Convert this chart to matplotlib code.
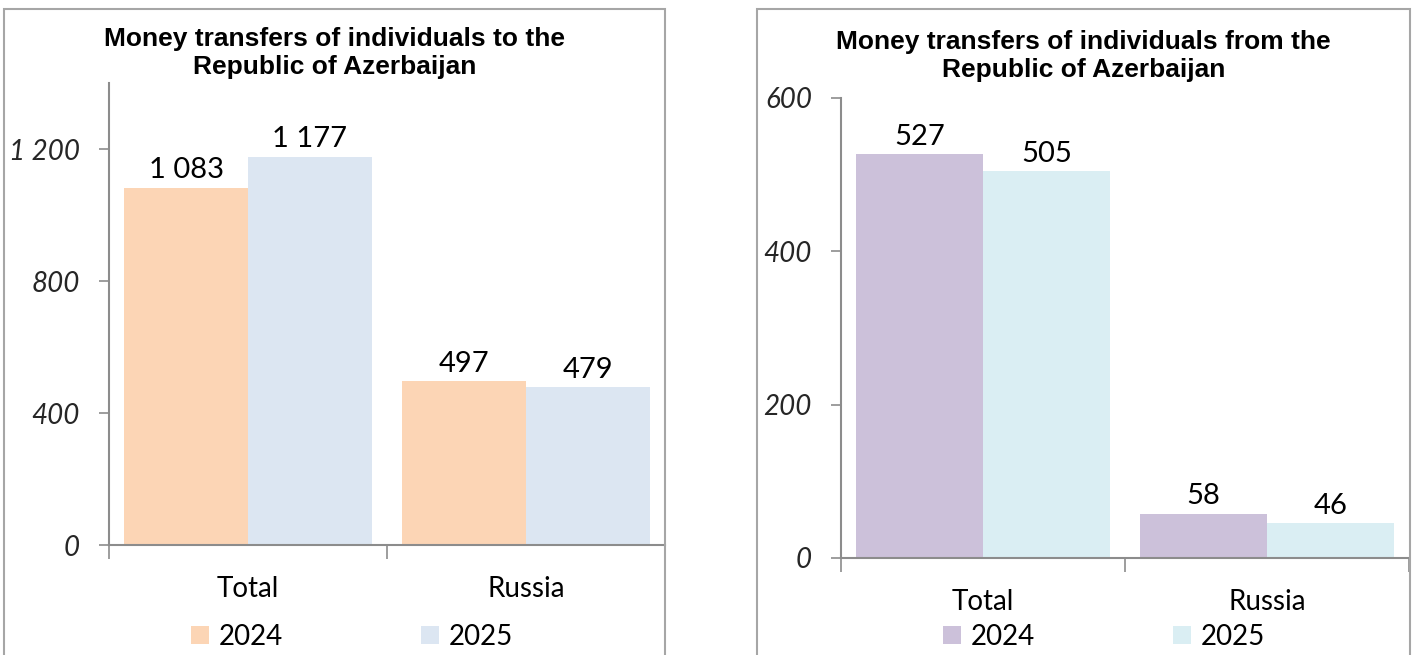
import numpy as np
import matplotlib.pyplot as plt
from matplotlib.patches import Rectangle, Patch
from matplotlib.ticker import FuncFormatter

# data
categories = ['Total', 'Russia']
years = ['2024', '2025']
to_az_2024 = [1083, 497]
to_az_2025 = [1177, 479]
from_az_2024 = [527, 58]
from_az_2025 = [505, 46]

title_left = 'Money transfers of individuals to the\nRepublic of Azerbaijan'
title_right = 'Money transfers of individuals from the\nRepublic of Azerbaijan'

W, H = 1413, 655
plt.rcParams['font.family'] = ['Lato', 'DejaVu Sans']
fig = plt.figure(figsize=(W / 100, H / 100), dpi=100)

def px_box(x0, y0, x1, y1):
    # pixel coords (top-left origin) -> figure fractions
    return [x0 / W, 1 - y1 / H, (x1 - x0) / W, (y1 - y0) / H]

def space_fmt(v, pos):
    return f'{int(v):,}'.replace(',', ' ')

axis_col = '#8c8c8c'

def draw_panel(box, frame, vals1, vals2, colors, ymax, yticks, title, title_y, leg_xy):
    # grey frame round the panel
    fx = px_box(*frame)
    fig.add_artist(Rectangle((fx[0], fx[1]), fx[2], fx[3], transform=fig.transFigure,
                             fill=False, edgecolor='#a6a6a6', linewidth=1.5, clip_on=False))
    ax = fig.add_axes(px_box(*box))
    x = np.arange(len(categories)) + 0.5
    w = 0.446
    b1 = ax.bar(x - w / 2, vals1, w, color=colors[0], label=years[0])
    b2 = ax.bar(x + w / 2, vals2, w, color=colors[1], label=years[1])
    for bars in (b1, b2):
        ax.bar_label(bars, labels=[space_fmt(v, None) for v in bars.datavalues],
                     padding=3, fontsize=21, color='black')
    ax.set_xlim(0, len(categories))
    ax.set_ylim(0, ymax)
    ax.set_yticks(yticks)
    ax.yaxis.set_major_formatter(FuncFormatter(space_fmt))
    ax.tick_params(axis='y', direction='out', length=7, width=1.2, color=axis_col,
                   labelsize=20, labelcolor='#262626', pad=14)
    for lab in ax.get_yticklabels():
        lab.set_fontstyle('italic')
    ax.set_xticks(np.arange(len(categories) + 1))
    ax.set_xticklabels([])
    ax.tick_params(axis='x', which='major', direction='out', length=10, width=1.2, color=axis_col)
    ax.set_xticks(x, minor=True)
    ax.set_xticklabels(categories, minor=True)
    ax.tick_params(axis='x', which='minor', length=0, labelsize=20, pad=22)
    for s in ('top', 'right'):
        ax.spines[s].set_visible(False)
    for s in ('left', 'bottom'):
        ax.spines[s].set_color(axis_col)
        ax.spines[s].set_linewidth(1.5)
    cx = (frame[0] + frame[2]) / 2
    fig.text(cx / W, 1 - title_y / H, title, ha='center', va='center',
             family='Liberation Sans', fontweight='bold', fontsize=19, linespacing=1.25)
    handles = [Patch(facecolor=c) for c in colors]
    fig.legend(handles, years, loc='center', bbox_to_anchor=(leg_xy[0] / W, 1 - leg_xy[1] / H),
               ncol=2, frameon=False, fontsize=20, handlelength=0.62, handleheight=0.62,
               handletextpad=0.35, columnspacing=5.0)
    return ax

draw_panel((109, 83, 665, 545), (4, 9, 665, 660), to_az_2024, to_az_2025,
           ['#fcd5b5', '#dce6f2'], 1400, [0, 400, 800, 1200], title_left, 53, (352, 637))
draw_panel((841, 98, 1409, 558), (757, 9, 1410, 660), from_az_2024, from_az_2025,
           ['#ccc1da', '#daeef3'], 600, [0, 200, 400, 600], title_right, 56, (1104, 637))

plt.savefig('out.png', dpi=100)
